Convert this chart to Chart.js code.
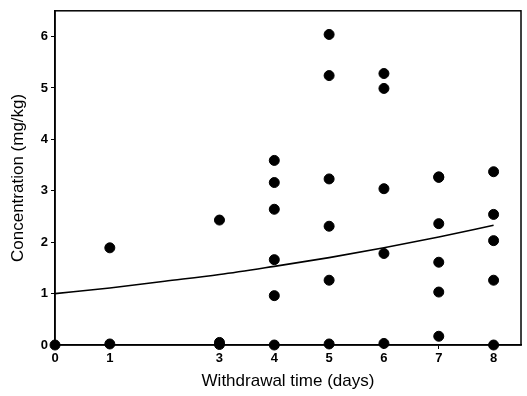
<!DOCTYPE html>
<html><head><meta charset="utf-8">
<script src="https://cdn.jsdelivr.net/npm/chart.js@4/dist/chart.umd.min.js"></script>
<style>html,body{margin:0;padding:0;background:#fff}#wrap{width:527px;height:396px}</style>
</head><body><div id="wrap"><canvas id="c" width="527" height="396"></canvas></div>
<script>
// Observed data: withdrawal day and concentration (mg/kg)
const obsDays = [0, 1, 1, 3, 3, 3, 4, 4, 4, 4, 4, 4, 5, 5, 5, 5, 5, 5, 6, 6, 6, 6, 6, 7, 7, 7, 7, 7, 7, 8, 8, 8, 8, 8];
const obsConc = [0, 0.02, 1.89, 0.01, 0.05, 2.43, 0, 0.96, 1.66, 2.64, 3.16, 3.59, 0.02, 1.26, 2.31, 3.23, 5.24, 6.04, 0.03, 1.78, 3.04, 4.99, 5.28, 0.17, 1.03, 1.61, 2.36, 3.26, 3.27, 0, 1.26, 2.03, 2.54, 3.37];
// Fitted curve
const fitDays = [0, 1, 2, 3, 4, 5, 6, 7, 8];
const fitConc = [1.0, 1.11, 1.24, 1.37, 1.53, 1.70, 1.89, 2.10, 2.33];
// Tick labels
const xTicks = [0, 1, 3, 4, 5, 6, 7, 8];
const yTicks = [0, 1, 2, 3, 4, 5, 6];

const FONT = 'Arial, "Liberation Sans", sans-serif';
const frame = {
  id: 'frame',
  afterDraw(chart) {
    const a = chart.chartArea, ctx = chart.ctx;
    ctx.save();
    ctx.strokeStyle = '#000';
    ctx.lineWidth = 1.5;
    ctx.strokeRect(a.left, a.top, a.right - a.left, a.bottom - a.top);
    ctx.restore();
  }
};

new Chart(document.getElementById('c'), {
  type: 'scatter',
  data: {
    datasets: [
      {
        data: obsDays.map((d, i) => ({x: d, y: obsConc[i]})),
        backgroundColor: '#000', borderColor: '#000',
        pointRadius: 5, pointHoverRadius: 5, clip: false
      },
      {
        type: 'line',
        data: fitDays.map((d, i) => ({x: d, y: fitConc[i]})),
        borderColor: '#000', borderWidth: 1.6, pointRadius: 0,
        fill: false, tension: 0.4, cubicInterpolationMode: 'monotone'
      }
    ]
  },
  options: {
    responsive: false, animation: false,
    layout: {padding: {left: 4, right: 6, top: 6, bottom: 0}},
    plugins: {legend: {display: false}, tooltip: {enabled: false}},
    scales: {
      x: {
        type: 'linear', min: 0, max: 8.5,
        afterBuildTicks: s => { s.ticks = xTicks.map(v => ({value: v})); },
        afterFit: s => { s.height = 51; },
        grid: {drawOnChartArea: false, drawTicks: true, tickLength: 4, color: '#000', lineWidth: 1},
        border: {display: true, color: '#000', width: 1.5},
        ticks: {color: '#000', font: {family: FONT, size: 13, weight: 'bold'}, padding: 2, maxRotation: 0, autoSkip: false},
        title: {display: true, text: 'Withdrawal time (days)', color: '#000', font: {family: FONT, size: 17}, padding: {top: 2}}
      },
      y: {
        type: 'linear', min: 0, max: 6.5,
        afterBuildTicks: s => { s.ticks = yTicks.map(v => ({value: v})); },
        afterFit: s => { s.width = 51; },
        grid: {drawOnChartArea: false, drawTicks: true, tickLength: 4, color: '#000', lineWidth: 1},
        border: {display: true, color: '#000', width: 1.5},
        ticks: {color: '#000', font: {family: FONT, size: 13, weight: 'bold'}, padding: 3},
        title: {display: true, text: 'Concentration (mg/kg)', color: '#000', font: {family: FONT, size: 17}, padding: {bottom: 2}}
      }
    }
  },
  plugins: [frame]
});
</script>
</body></html>
